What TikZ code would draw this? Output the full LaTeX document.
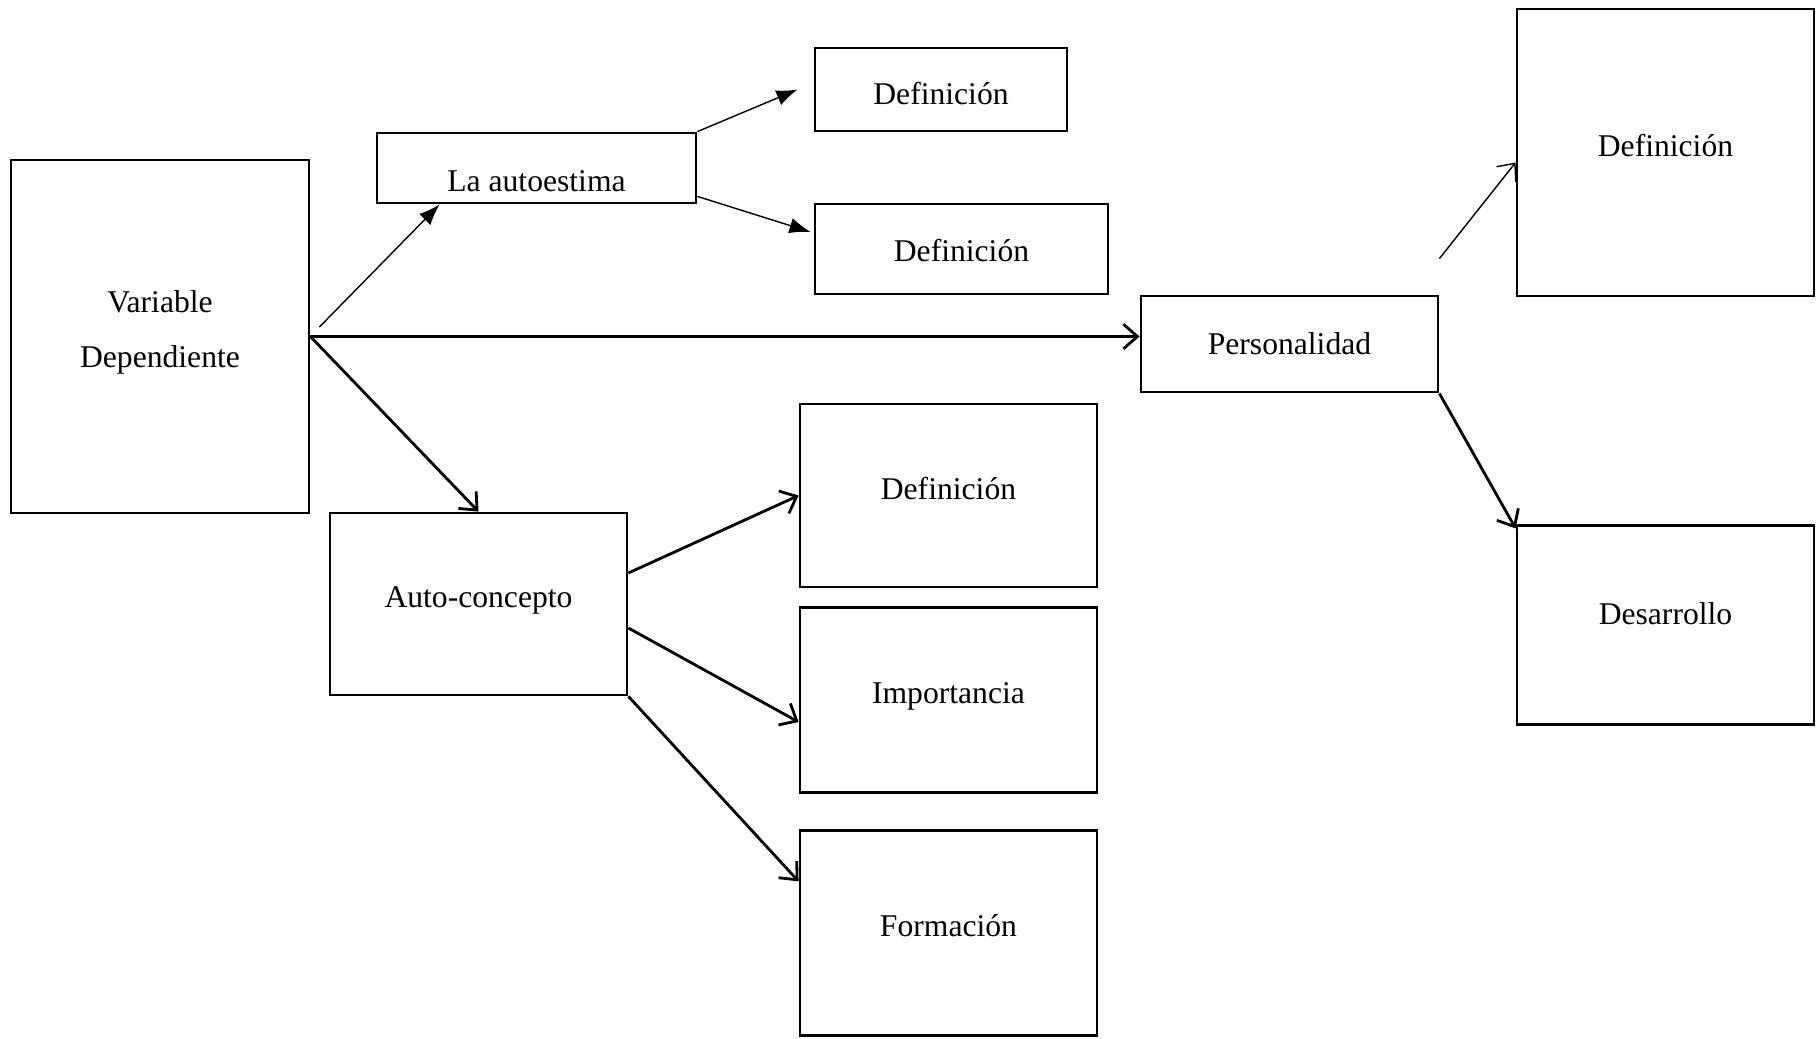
\documentclass[tikz,border=0pt]{standalone}
\usepackage{fontspec}
\setmainfont{Liberation Serif}
\usepackage{tikz}
\usetikzlibrary{arrows.meta,positioning,calc}
\tikzset{
    box/.style={draw, rectangle, line width=0.8pt, inner sep=0pt, align=center, text height=6pt, text depth=4pt, font=\fontsize{9}{15.6}\selectfont},
    flow/.style={-{Straight Barb[length=4pt, width=7pt]}, line width=0.8pt},
    thinflow/.style={-{Straight Barb[length=4pt, width=7pt]}, line width=0.4pt},
    solidtip/.style={-{Latex[length=6pt, width=4.5pt]}, line width=0.4pt}
}

\begin{document}
\begin{tikzpicture}
            \useasboundingbox (0,0) rectangle (18.2,-10.38);
            \node[box, minimum width=2.98cm, minimum height=3.53cm, text height=21.8pt] (vd) at (1.60,-3.365) {Variable\\Dependiente};
            \node[box, minimum width=3.19cm, minimum height=0.70cm, text height=14pt, text depth=0.6pt] (autoest) at (5.365,-1.68) {La autoestima};
            \node[box, minimum width=2.52cm, minimum height=0.83cm, text height=9pt, text depth=0.2pt] (defa) at (9.41,-0.895) {Definición};
            \node[box, minimum width=2.93cm, minimum height=0.90cm, text height=7.5pt, text depth=0.3pt] (defb) at (9.615,-2.49) {Definición};
            \node[box, minimum width=2.97cm, minimum height=0.96cm, text height=6.5pt, text depth=0.5pt] (pers) at (12.895,-3.44) {Personalidad};
            \node[box, minimum width=2.97cm, minimum height=2.87cm] (defp) at (16.655,-1.525) {Definición};
            \node[box, minimum width=2.97cm, minimum height=1.99cm, below=2.27cm of defp, text depth=6.6pt] (desarr) {Desarrollo};
            \node[box, minimum width=2.97cm, minimum height=1.82cm] (autoc) at (4.785,-6.04) {Auto-concepto};
            \node[box, minimum width=2.97cm, minimum height=1.83cm] (defc) at (9.485,-4.955) {Definición};
            \node[box, minimum width=2.97cm, minimum height=1.85cm, below=0.177cm of defc] (import) {Importancia};
            \node[box, minimum width=2.97cm, minimum height=2.05cm, below=0.355cm of import] (form) {Formación};

            \draw[solidtip] ([shift={(0.09,0.095)}]vd.east) -- ([xshift=0.64cm]autoest.south west);
            \draw[solidtip] (autoest.north east) -- ([xshift=-0.16cm]defa.west);
            \draw[solidtip] ([yshift=0.08cm]autoest.south east) -- ([shift={(-0.03,0.17)}]defb.west);
            \draw[flow] (vd.east) -- (vd.east -| pers.west);
            \draw[flow] (vd.east) -- (autoc.north);
            \draw[flow] ([yshift=0.31cm]autoc.east) -- (defc.west);
            \draw[flow] ([yshift=-0.24cm]autoc.east) -- ([yshift=-0.22cm]import.west);
            \draw[flow] (autoc.south east) -- ([yshift=0.52cm]form.west);
            \draw[thinflow] ([yshift=0.36cm]pers.north east) -- ([yshift=-0.1cm]defp.west);
            \draw[flow] (pers.south east) -- ([yshift=-0.04cm]desarr.north west);
        \end{tikzpicture}
\end{document}
